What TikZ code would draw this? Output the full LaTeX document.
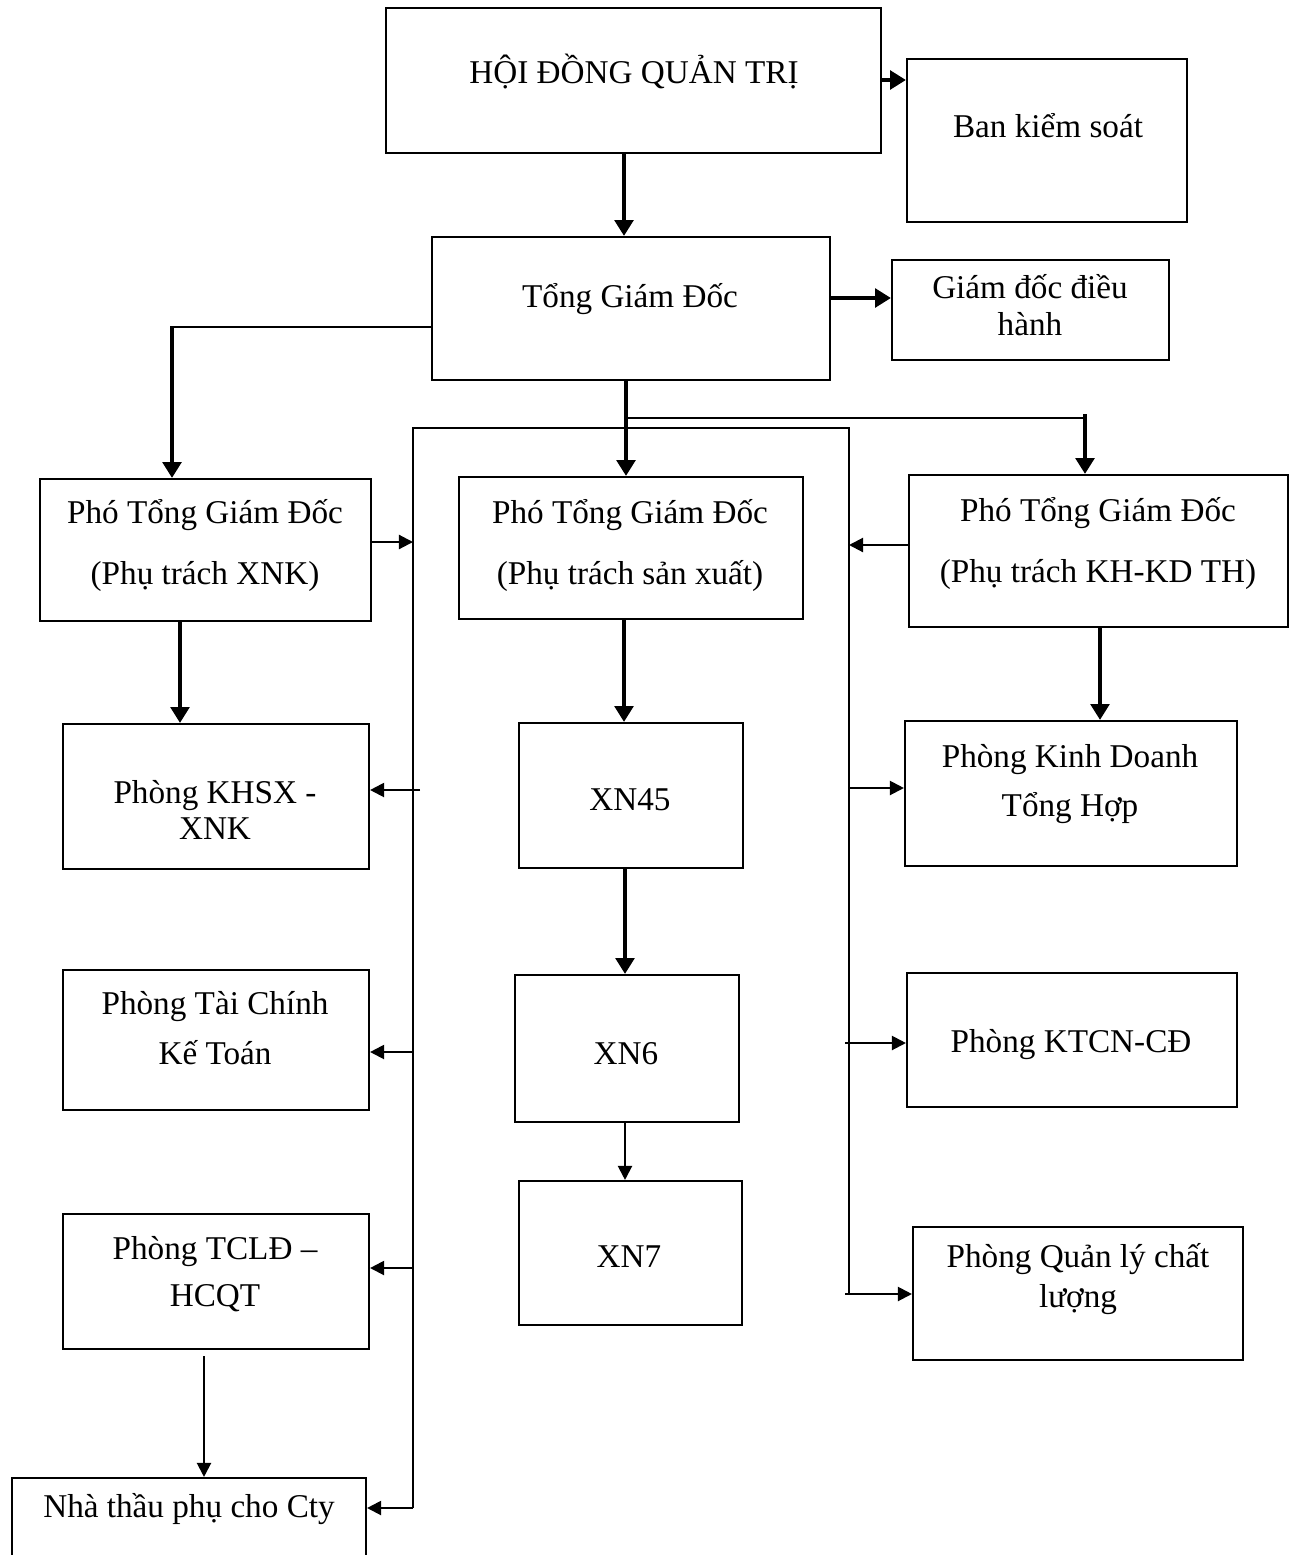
\documentclass[tikz,border=0pt]{standalone}
\usepackage{fontspec}
\setmainfont{Liberation Serif}
\usetikzlibrary{arrows.meta}
\tikzset{
  box/.style={draw, line width=1.2pt, inner sep=0pt},
  ln/.style={line width=1.2pt},
  arr/.style={line width=1.2pt, -{Triangle[length=8pt,width=8pt]}},
  tarr/.style={line width=2.6pt, -{Triangle[length=9pt,width=10.5pt]}},
  lbl/.style={inner sep=0pt, anchor=base, font=\fontsize{18.9}{22.7}\selectfont}
}
\newcommand\bx[5]{\node[box, minimum width={(#4-#2)*0.02cm}, minimum height={(#5-#3)*0.02cm}] (#1) at ({(#2+#4)/2},{(#3+#5)/2}) {};}
\newcommand\tl[4]{\node[lbl] (#1) at (#2,{#3+9}) {#4};}
\begin{document}
\begin{tikzpicture}[x=0.02cm,y=-0.02cm]
\useasboundingbox (0,0) rectangle (1294,1555);
% boxes
\bx{hdqt}{386}{8}{881}{153}
\bx{bks}{907}{59}{1187}{222}
\bx{tgd}{432}{237}{830}{380}
\bx{gddh}{892}{260}{1169}{360}
\bx{ptx}{40}{479}{371}{621}
\bx{pts}{459}{477}{803}{619}
\bx{ptk}{909}{475}{1288}{627}
\bx{khsx}{63}{724}{369}{869}
\bx{xn45}{519}{723}{743}{868}
\bx{kdth}{905}{721}{1237}{866}
\bx{tckt}{63}{970}{369}{1110}
\bx{xn6}{515}{975}{739}{1122}
\bx{ktcn}{907}{973}{1237}{1107}
\bx{tcld}{63}{1214}{369}{1349}
\bx{xn7}{519}{1181}{742}{1325}
\bx{qlcl}{913}{1227}{1243}{1360}
\bx{nt}{12}{1478}{366}{1600}
% texts
\tl{t1}{634}{74}{HỘI ĐỒNG QUẢN TRỊ}
\tl{t2}{1048}{128}{Ban kiểm soát}
\tl{t3}{630}{298}{Tổng Giám Đốc}
\tl{t4}{1030}{289}{Giám đốc điều}
\tl{t5}{1030}{326}{hành}
\tl{t6}{205}{514}{Phó Tổng Giám Đốc}
\tl{t7}{205}{575}{(Phụ trách XNK)}
\tl{t8}{630}{514}{Phó Tổng Giám Đốc}
\tl{t9}{630}{575}{(Phụ trách sản xuất)}
\tl{t10}{1098}{512}{Phó Tổng Giám Đốc}
\tl{t11}{1098}{573}{(Phụ trách KH-KD TH)}
\tl{t12}{215}{794}{Phòng KHSX -}
\tl{t13}{215}{830}{XNK}
\tl{t14}{630}{801}{XN45}
\tl{t15}{1070}{758}{Phòng Kinh Doanh}
\tl{t16}{1070}{807}{Tổng Hợp}
\tl{t17}{215}{1005}{Phòng Tài Chính}
\tl{t18}{215}{1055}{Kế Toán}
\tl{t19}{626}{1055}{XN6}
\tl{t20}{1071}{1043}{Phòng KTCN-CĐ}
\tl{t21}{215}{1250}{Phòng TCLĐ –}
\tl{t22}{215}{1297}{HCQT}
\tl{t23}{629}{1258}{XN7}
\tl{t24}{1078}{1258}{Phòng Quản lý chất}
\tl{t25}{1078}{1298}{lượng}
\tl{t26}{189}{1508}{Nhà thầu phụ cho Cty}
% bus coordinates
\coordinate (bl0) at (413,428);
\coordinate (br0) at (849,428);
\coordinate (bl1) at (420,790);
\coordinate (bl2) at (413,1052);
\coordinate (bl3) at (413,1268);
\coordinate (bl4) at (413,1508);
\coordinate (br1) at (849,788);
\coordinate (br2) at (845,1043);
\coordinate (br3) at (845,1294);
\coordinate (br4) at (849,1294);
\coordinate (tl) at (172,327);
\coordinate (tr) at (1085,418);
\coordinate (tm) at (626,418);
% top connectors
\draw[tarr] (hdqt.east |- 0,80) -- (bks.west |- 0,80);
\draw[tarr] (hdqt.south -| 624,0) -- (tgd.north -| 624,0);
\draw[tarr] (tgd.east |- 0,298) -- (gddh.west |- 0,298);
\draw[ln] (tgd.west |- tl) -- (tl);
\draw[tarr] (172,326) -- (ptx.north -| tl);
\draw[tarr] (tgd.south -| tm) -- (pts.north -| tm);
\draw[ln] (tm) -- (1087,418);
\draw[tarr] (1085,414) -- (ptk.north -| tr);
% bus
\draw[ln] (bl4) -- (bl0) -- (br0) -- (br4);
\draw[arr] (ptx.east |- 0,542) -- (413,542);
\draw[arr] (ptk.west |- 0,545) -- (849,545);
\draw[arr] (bl1) -- (bl1 -| khsx.east);
\draw[arr] (bl2) -- (bl2 -| tckt.east);
\draw[arr] (bl3) -- (bl3 -| tcld.east);
\draw[arr] (bl4) -- (bl4 -| nt.east);
\draw[arr] (br1) -- (br1 -| kdth.west);
\draw[arr] (br2) -- (br2 -| ktcn.west);
\draw[arr] (br3) -- (br3 -| qlcl.west);
% vertical chains
\draw[tarr, line width=2.2pt] (ptx.south -| 180,0) -- (khsx.north -| 180,0);
\draw[tarr, line width=2.2pt] (pts.south -| 624,0) -- (xn45.north -| 624,0);
\draw[tarr, line width=2.2pt] (ptk.south -| 1100,0) -- (kdth.north -| 1100,0);
\draw[tarr, line width=2.2pt] (xn45.south -| 625,0) -- (xn6.north -| 625,0);
\draw[arr] (xn6.south -| 625,0) -- (xn7.north -| 625,0);
\draw[arr] (204,1356) -- (nt.north -| 204,0);
\end{tikzpicture}
\end{document}
